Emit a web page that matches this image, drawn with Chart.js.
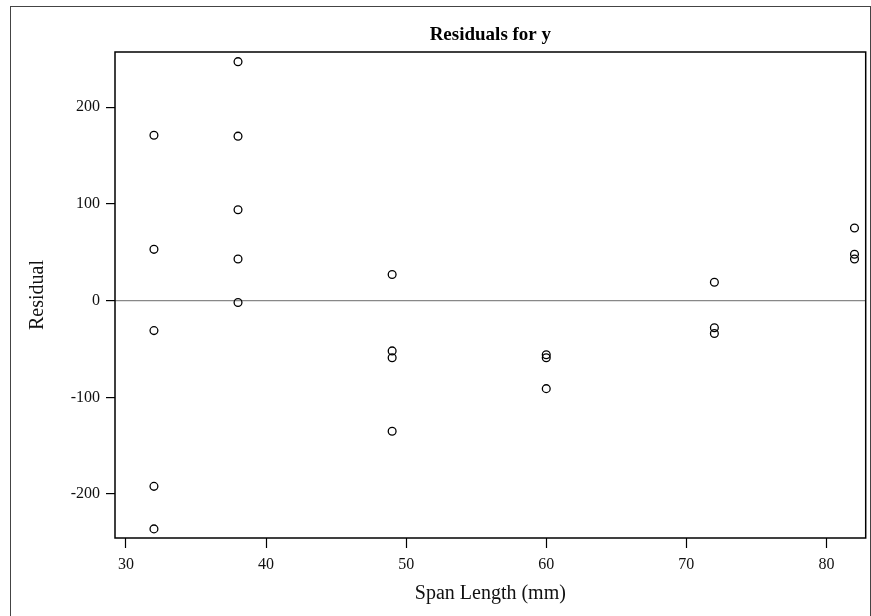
<!DOCTYPE html>
<html>
<head>
<meta charset="utf-8">
<script src="https://cdn.jsdelivr.net/npm/chart.js@4.4.1/dist/chart.umd.min.js"></script>
<style>
    html, body { margin: 0; padding: 0; background: #fff; }
    #wrap { width: 871px; height: 616px; position: relative; }
</style>
</head>
<body>
<div id="wrap"><canvas id="residChart"></canvas></div>
<script>
// === Data ===
const spanLength = [32, 32, 32, 32, 32,
                    38, 38, 38, 38, 38,
                    49, 49, 49, 49,
                    60, 60, 60,
                    72, 72, 72,
                    82, 82, 82];
const residual = [171, 53, -31, -192, -236,
                  247, 170, 94, 43, -2,
                  27, -52, -59, -135,
                  -56, -59, -91,
                  19, -28, -34,
                  75, 48, 43];
const xTicks = [30, 40, 50, 60, 70, 80];
const yTicks = [-200, -100, 0, 100, 200];

const serif = '"Liberation Serif", "Times New Roman", serif';

// frame round the whole picture + box round the plot
const frames = {
    id: 'frames',
    afterDraw(chart) {
        const { ctx, chartArea: a } = chart;
        ctx.save();
        ctx.strokeStyle = '#444';
        ctx.lineWidth = 1;
        ctx.strokeRect(10.5, 6.5, 860, 640);
        ctx.strokeStyle = '#000';
        ctx.lineWidth = 1.5;
        ctx.strokeRect(a.left, a.top, a.right - a.left, a.bottom - a.top);
        ctx.restore();
    }
};

new Chart(document.getElementById('residChart'), {
    type: 'scatter',
    data: {
        datasets: [{
            label: 'Residual',
            data: spanLength.map((x, i) => ({ x: x, y: residual[i] })),
            pointStyle: 'circle',
            pointRadius: 3.9,
            pointBorderWidth: 1.3,
            pointBorderColor: '#000',
            pointBackgroundColor: 'rgba(255,255,255,0)',
            showLine: false
        }]
    },
    options: {
        responsive: true,
        maintainAspectRatio: false,
        animation: false,
        layout: { padding: { left: 0, right: 2, top: 0, bottom: 0 } },
        plugins: {
            legend: { display: false },
            tooltip: { enabled: false },
            title: {
                display: true,
                fullSize: false,
                text: 'Residuals for y',
                color: '#000',
                font: { family: serif, size: 19, weight: 'bold' },
                padding: { top: 23.6, bottom: 5.6 }
            }
        },
        scales: {
            x: {
                type: 'linear',
                min: 29.22,
                max: 82.8,
                afterBuildTicks: s => { s.ticks = xTicks.map(v => ({ value: v })); },
                afterFit: s => { s.height = 78; },
                border: { display: false },
                grid: { drawOnChartArea: false, tickLength: 10, tickColor: '#000', tickWidth: 1.2 },
                ticks: { color: '#111', padding: 7, font: { family: serif, size: 16 }, maxRotation: 0 },
                title: {
                    display: true,
                    text: 'Span Length (mm)',
                    color: '#111',
                    font: { family: serif, size: 20 },
                    padding: { top: 0, bottom: 10 }
                }
            },
            y: {
                type: 'linear',
                min: -245.4,
                max: 257,
                afterBuildTicks: s => { s.ticks = yTicks.map(v => ({ value: v })); },
                afterFit: s => { s.width = 115; },
                border: { display: false },
                grid: {
                    drawOnChartArea: true,
                    color: c => (c.tick && c.tick.value === 0) ? '#888' : 'rgba(0,0,0,0)',
                    lineWidth: 1.2,
                    tickLength: 9,
                    tickColor: '#000',
                    tickWidth: 1.2
                },
                ticks: { color: '#111', padding: 6, font: { family: serif, size: 16 } },
                title: {
                    display: true,
                    text: 'Residual',
                    color: '#111',
                    font: { family: serif, size: 20 },
                    padding: { top: 26, bottom: 0 }
                }
            }
        }
    },
    plugins: [frames]
});
</script>
</body>
</html>
